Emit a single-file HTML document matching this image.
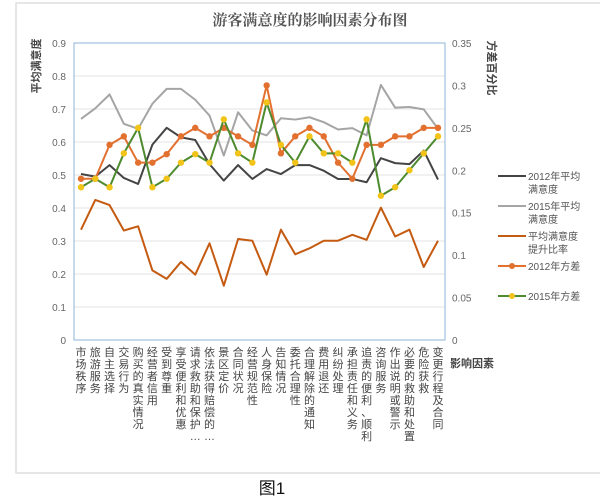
<!DOCTYPE html>
<html><head><meta charset="utf-8"><style>
body{margin:0;background:#fff;width:600px;height:499px;overflow:hidden}
svg{display:block;font-family:"Liberation Sans","Noto Sans CJK SC",sans-serif}
</style></head><body>
<svg id="chart" width="600" height="499" viewBox="0 0 600 499">
<rect x="16" y="3" width="590" height="470" fill="#fff" stroke="#ddd" stroke-width="1.5"/>
<text x="310" y="25" text-anchor="middle" font-size="15" font-weight="bold" fill="#555" font-family="'Liberation Serif','Noto Serif CJK SC',serif">游客满意度的影响因素分布图</text>
<text x="272" y="494" text-anchor="middle" font-size="17" fill="#111" font-family="'Liberation Sans','Noto Sans CJK SC',sans-serif">图1</text>
<text transform="translate(40,66) rotate(-90)" text-anchor="middle" font-size="11" font-weight="bold" fill="#444">平均满意度</text>
<text transform="translate(488,68) rotate(90)" text-anchor="middle" font-size="11" font-weight="bold" fill="#444">方差百分比</text>
<g id="grid"></g><g id="axes"></g><g id="series"></g><g id="xlabels"></g><g id="legend"></g>
</svg>
<script>
const categories=["市场秩序","旅游服务","自主选择","交易行为","购买的真实情况","经营者信用","受到尊重","享受便利和优惠","请求救助和保护…","依法获得赔偿的…","景区定价","合同状况","经营规范性","人身保险","告知情况","委托合理性","合理解除的通知","费用退还","纠纷处理","承担责任和义务","追责的便利、顺利","咨询服务","作出说明或警示","必要的救助和处置","危险获救","变更行程及合同"];
const avg2012=[0.503,0.495,0.530,0.491,0.473,0.592,0.643,0.614,0.606,0.533,0.483,0.530,0.488,0.518,0.503,0.530,0.530,0.513,0.488,0.488,0.478,0.551,0.536,0.533,0.574,0.486];
const avg2015=[0.670,0.702,0.744,0.655,0.640,0.716,0.761,0.761,0.728,0.680,0.559,0.690,0.635,0.620,0.672,0.668,0.675,0.660,0.638,0.642,0.620,0.773,0.704,0.706,0.699,0.640];
const rateUp=[0.130,0.165,0.159,0.129,0.134,0.082,0.072,0.092,0.077,0.114,0.064,0.119,0.117,0.077,0.130,0.101,0.108,0.117,0.117,0.124,0.118,0.156,0.122,0.130,0.086,0.117];
const var2012=[0.190,0.190,0.230,0.240,0.209,0.209,0.219,0.240,0.250,0.240,0.250,0.240,0.230,0.300,0.220,0.240,0.250,0.240,0.209,0.190,0.230,0.230,0.240,0.240,0.250,0.250];
const var2015=[0.180,0.190,0.180,0.220,0.250,0.180,0.190,0.209,0.219,0.209,0.260,0.220,0.209,0.280,0.230,0.209,0.240,0.220,0.220,0.209,0.260,0.170,0.180,0.200,0.220,0.240];
const leftTicks=["0","0.1","0.2","0.3","0.4","0.5","0.6","0.7","0.8","0.9"];
const rightTicks=["0","0.05","0.1","0.15","0.2","0.25","0.3","0.35"];
const NS="http://www.w3.org/2000/svg";
const PL=74,PR=445,PT=43,PB=340,X0=81,X1=438;
const xS=i=>X0+(X1-X0)*i/(categories.length-1);
const yL=v=>PB-(PB-PT)*v/0.9;
const yR=v=>PB-(PB-PT)*v/0.35;
function mk(tag,attrs,parent){const e=document.createElementNS(NS,tag);for(const k in attrs)e.setAttribute(k,attrs[k]);parent.appendChild(e);return e;}
const grid=document.getElementById('grid'),axes=document.getElementById('axes'),ser=document.getElementById('series'),xl=document.getElementById('xlabels'),lg=document.getElementById('legend');
leftTicks.forEach(t=>{const v=parseFloat(t);const y=yL(v);
 const l=mk('line',{x1:PL,x2:PR,y1:y,y2:y,stroke:'#e3e3e3','stroke-width':1},grid);
 
 
 const tx=mk('text',{x:66,y:y+4,'text-anchor':'end','font-size':10,fill:'#666'},axes);tx.textContent=t;
 
 
});
rightTicks.forEach(t=>{const y=yR(parseFloat(t));
 const tx=mk('text',{x:452,y:y+4,'font-size':10,fill:'#666'},axes);tx.textContent=t;
 
 
});
const fr=mk('rect',{x:PL,y:PT,width:PR-PL,height:PB-PT,fill:'none',stroke:'#8fb4d9','stroke-width':1},axes);


function vtext(str,x,y,size,parent,name,weight){
 const t=mk('text',{x:x,y:y,'font-size':size,fill:'#444','text-anchor':'middle','font-weight':weight||'normal'},parent);
 [...str].forEach((c,i)=>{const s=mk('tspan',{x:x,dy:i?size+1:0},t);s.textContent=c;});
 
 
 return t;}
const xt=mk('text',{x:450,y:367,'font-size':11,'font-weight':'bold',fill:'#444'},axes);xt.textContent="影响因素";


categories.forEach((c,i)=>{vtext(c,xS(i),356,11,xl,'x-tick-label');});
function line(vals,sc,color,name,w){
 const p=mk('polyline',{points:vals.map((v,i)=>xS(i)+','+sc(v)).join(' '),fill:'none',stroke:color,'stroke-width':w||2,'stroke-linejoin':'round'},ser);
 
 }
function dots(vals,sc,color,name){vals.forEach((v,i)=>{
 const c=mk('circle',{cx:xS(i),cy:sc(v),r:3.2,fill:color},ser);
 
 });}
line(avg2015,yL,'#a5a5a5','series-2015-avg');
line(avg2012,yL,'#444','series-2012-avg');
line(rateUp,yR,'#c55a11','series-rate');
line(var2012,yR,'#e2702f','series-2012-variance');
dots(var2012,yR,'#e2702f','point-2012-variance');
line(var2015,yR,'#4e8a2e','series-2015-variance');
dots(var2015,yR,'#f2c318','point-2015-variance');
const legendItems=[["2012年平均","满意度","#444",0],["2015年平均","满意度","#a5a5a5",0],["平均满意度","提升比率","#c55a11",0],["2012年方差","","#e2702f","#e2702f"],["2015年方差","","#4e8a2e","#f2c318"]];
const ly=[176,206,236,266,296];
legendItems.forEach((it,i)=>{const y=ly[i];
 const l=mk('line',{x1:498,x2:526,y1:y,y2:y,stroke:it[2],'stroke-width':2},lg);
 
 
 if(it[3]){const c=mk('circle',{cx:512,cy:y,r:3,fill:it[3]},lg);
  
  }
 const t=mk('text',{x:528,y:y+4,'font-size':10,fill:'#555'},lg);
 const s1=mk('tspan',{x:528},t);s1.textContent=it[0];
 if(it[1]){const s2=mk('tspan',{x:528,dy:13},t);s2.textContent=it[1];}
 
 
});
</script>
</body></html>
